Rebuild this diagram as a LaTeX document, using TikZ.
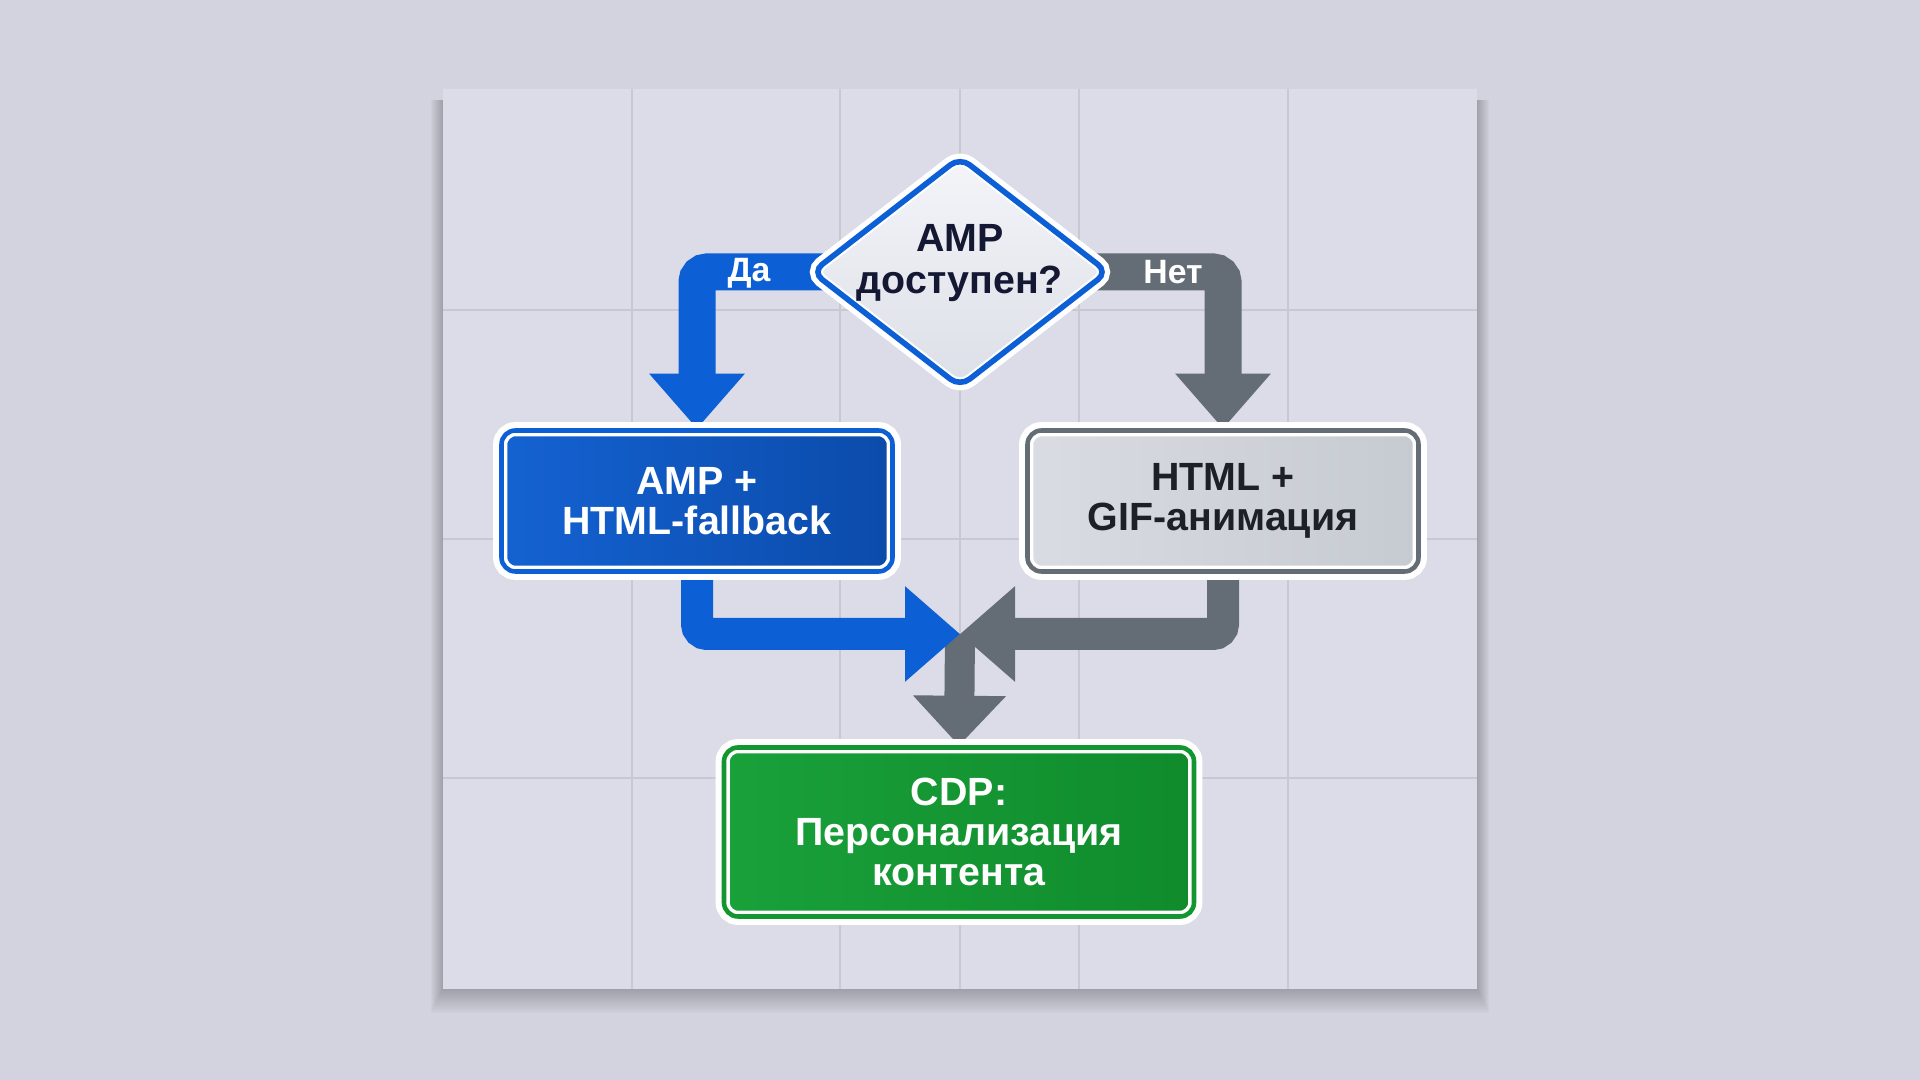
\documentclass[tikz,border=0pt]{standalone}
\usepackage{fontspec}
\setmainfont{Liberation Sans}
\usetikzlibrary{arrows.meta,shapes.geometric}

\definecolor{bgout}{HTML}{D3D3DF}
\definecolor{panelbg}{HTML}{DCDCE8}
\definecolor{gridgray}{HTML}{C8C8D5}
\definecolor{ampblue}{HTML}{0C5FD4}
\definecolor{ampbright}{HTML}{1462D2}
\definecolor{ampdark}{HTML}{0B4BAA}
\definecolor{htmlgray}{HTML}{646D76}
\definecolor{htmlfillL}{HTML}{D9DCE2}
\definecolor{htmlfillR}{HTML}{C6CAD1}
\definecolor{cdpgreen}{HTML}{13962F}
\definecolor{cdpL}{HTML}{19A13A}
\definecolor{cdpR}{HTML}{108B2C}
\definecolor{inkgray}{HTML}{1D2127}
\definecolor{inknavy}{HTML}{141833}
\definecolor{decL}{HTML}{F4F5F9}
\definecolor{decR}{HTML}{DCDFE7}

\pgfdeclarelayer{panel}
\pgfdeclarelayer{bands}
\pgfsetlayers{panel,bands,main}

\tikzset{
  paneline/.style={gridgray, line width=0.6pt},
  box/.style={rectangle, rounded corners=0.14cm, draw=white, line width=1pt,
    double=#1, double distance=1.3pt,
    preaction={draw=white, line width=4.8pt},
    minimum width=3.91cm, minimum height=1.41cm, inner sep=0pt, align=center,
    font=\fontsize{11.2}{11.5}\selectfont\bfseries},
  decision/.style={diamond, rounded corners=0.12cm, draw=white, line width=0.6pt,
    double=ampblue, double distance=1.6pt,
    preaction={draw=white, line width=4.6pt},
    top color=decL, bottom color=decR,
    minimum width=2.96cm, minimum height=2.3cm, inner sep=0pt},
  dectext/.style={align=center, text=inknavy, inner sep=0pt,
    font=\fontsize{11.2}{11.8}\selectfont\bfseries},
  band/.style={line width=0.32cm, rounded corners=0.1cm,
    -{Triangle[width=0.92cm,length=0.55cm]}},
  tag/.style={text=white, inner sep=0pt, font=\fontsize{9.6}{10}\selectfont\bfseries}
}

\begin{document}
\begin{tikzpicture}
  \useasboundingbox (0,0) rectangle (19.2,10.8);
  \begin{pgfonlayer}{panel}
    \fill[bgout] (0,0) rectangle (19.2,10.8);
    % soft shadow under the board
    \foreach \s in {0.02,0.04,...,0.24}
      \fill[black, opacity=0.018] (4.43-0.5*\s,0.91-\s) rectangle (14.77+0.5*\s,9.8);
    \fill[panelbg] (4.43,0.91) rectangle (14.77,9.91);
    \draw[paneline] (6.32,0.91) -- (6.32,9.91);
    \draw[paneline] (8.40,0.91) -- (8.40,9.91);
    \draw[paneline] (9.60,0.91) -- (9.60,9.91);
    \draw[paneline] (10.79,0.91) -- (10.79,9.91);
    \draw[paneline] (12.88,0.91) -- (12.88,9.91);
    \draw[paneline] (4.43,7.70) -- (14.77,7.70);
    \draw[paneline] (4.43,5.41) -- (14.77,5.41);
    \draw[paneline] (4.43,3.02) -- (14.77,3.02);
  \end{pgfonlayer}
%
  \node[decision] (dec) at (9.60,8.08) {};
  \node[dectext] (dectxt) at (9.60,8.17) {AMP\\доступен?};
%
  \node[box=ampblue, left color=ampbright, right color=ampdark, text=white]
    (amp) at (6.97,5.79) {AMP +\\HTML-fallback};
  \node[box=htmlgray, left color=htmlfillL, right color=htmlfillR, text=inkgray]
    (html) at (12.23,5.79) {HTML +\\GIF-анимация};
  \node[box=cdpgreen, minimum width=4.70cm, minimum height=1.69cm,
    left color=cdpL, right color=cdpR, text=white]
    (cdp) at (9.59,2.48) {CDP:\\Персонализация\\контента};
  \coordinate (join) at (9.60,4.46);
%
  \begin{pgfonlayer}{bands}
    \draw[band, htmlgray, line width=0.30cm,
      -{Triangle[width=0.9cm,length=0.5cm]}] (join) -- (cdp.north);
    \draw[band, ampblue, line width=0.37cm] (dec.center) -| (amp.north);
    \draw[band, htmlgray, line width=0.37cm] (dec.center) -| (html.north);
    \draw[band, ampblue] (amp.south) |- (join);
    \draw[band, htmlgray] (html.south) |- (join);
  \end{pgfonlayer}
  \node[tag] (yes) at (7.49,8.07) {Да};
  \node[tag] (no) at (11.73,8.08) {Нет};
\end{tikzpicture}
\end{document}
